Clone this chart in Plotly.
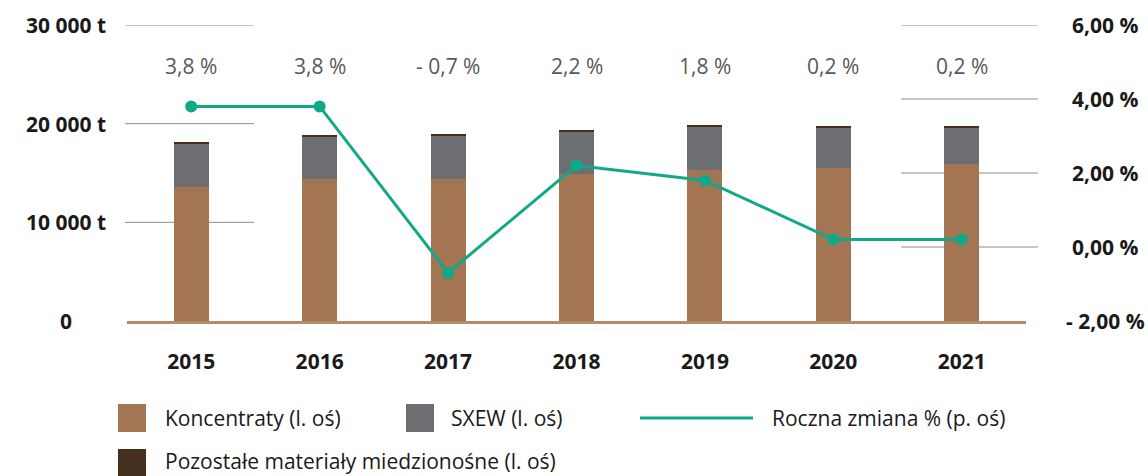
import plotly.graph_objects as go

# ---- data ----
years = ["2015", "2016", "2017", "2018", "2019", "2020", "2021"]
koncentraty = [13600, 14400, 14400, 14900, 15300, 15500, 15900]
sxew = [4350, 4300, 4400, 4300, 4400, 4100, 3700]
pozostale = [150, 200, 200, 200, 200, 200, 200]
zmiana = [3.8, 3.8, -0.7, 2.2, 1.8, 0.2, 0.2]
zmiana_labels = ["3,8 %", "3,8 %", "- 0,7 %", "2,2 %", "1,8 %", "0,2 %", "0,2 %"]

left_ticks = [0, 10000, 20000, 30000]
left_labels = ["0", "10 000 t", "20 000 t", "30 000 t"]
right_ticks = [-2, 0, 2, 4, 6]
right_labels = ["- 2,00 %", "0,00 %", "2,00 %", "4,00 %", "6,00 %"]

legend_names = ["Koncentraty (l. oś)", "SXEW (l. oś)", "Roczna zmiana % (p. oś)",
                "Pozostałe materiały miedzionośne (l. oś)"]

# ---- styling ----
C_KONC = "#a47553"
C_SXEW = "#6d6e71"
C_POZ = "#45301f"
C_LINE = "#0fa987"
C_GRID = "#8c8c8c"
C_BASE = "#b8896b"
FONT = "Open Sans"
FS = 21

W, H = 1148, 476
L, R, T, B = 127, 122, 25, 155
pw = W - L - R
ph = H - T - B


def px(x):
    return (x - L) / pw


def py(y):
    return (H - B - y) / ph


fig = go.Figure()
fig.add_trace(go.Bar(x=years, y=koncentraty, name=legend_names[0],
                     marker=dict(color=C_KONC, line=dict(width=0)), width=0.273))
fig.add_trace(go.Bar(x=years, y=sxew, name=legend_names[1],
                     marker=dict(color=C_SXEW, line=dict(width=0)), width=0.273))
fig.add_trace(go.Bar(x=years, y=pozostale, name=legend_names[3],
                     marker=dict(color=C_POZ, line=dict(width=0)), width=0.273))
fig.add_trace(go.Scatter(x=years, y=zmiana, name=legend_names[2], yaxis="y2",
                         mode="lines+markers",
                         line=dict(color=C_LINE, width=3),
                         marker=dict(color=C_LINE, size=12)))

shapes = []
# partial gridlines
for v in left_ticks[1:]:
    shapes.append(dict(type="line", xref="paper", yref="y", x0=px(125), x1=px(254),
                       y0=v, y1=v, line=dict(color=C_GRID, width=1), layer="below"))
for v in right_ticks[1:]:
    shapes.append(dict(type="line", xref="paper", yref="y2", x0=px(901), x1=px(1038),
                       y0=v, y1=v, line=dict(color=C_GRID, width=1), layer="below"))

annotations = []
for v, lab in zip(left_ticks, left_labels):
    annotations.append(dict(xref="paper", yref="y", x=px(66), y=v, text=f"<b>{lab}</b>",
                            showarrow=False, xanchor="center", yanchor="middle",
                            font=dict(family=FONT, size=FS, color="#1a1a1a")))
for v, lab in zip(right_ticks, right_labels):
    annotations.append(dict(xref="paper", yref="y2", x=px(1105), y=v, text=f"<b>{lab}</b>",
                            showarrow=False, xanchor="center", yanchor="middle",
                            font=dict(family=FONT, size=FS, color="#1a1a1a")))
for i, lab in enumerate(zmiana_labels):
    annotations.append(dict(xref="x", yref="paper", x=i, y=py(66), text=lab,
                            showarrow=False, xanchor="center", yanchor="middle",
                            font=dict(family=FONT, size=FS, color="#595959")))

# custom legend
def swatch(x0, yc, color):
    shapes.append(dict(type="rect", xref="paper", yref="paper",
                       x0=px(x0), x1=px(x0 + 28), y0=py(yc + 14), y1=py(yc - 14),
                       fillcolor=color, line=dict(width=0)))


def ltext(x0, yc, text):
    annotations.append(dict(xref="paper", yref="paper", x=px(x0), y=py(yc), text=text,
                            showarrow=False, xanchor="left", yanchor="middle",
                            font=dict(family=FONT, size=FS, color="#1a1a1a")))


swatch(118, 418, C_KONC)
ltext(163, 418, legend_names[0])
swatch(406, 418, C_SXEW)
ltext(449, 418, legend_names[1])
shapes.append(dict(type="line", xref="paper", yref="paper", x0=px(640), x1=px(753),
                   y0=py(418), y1=py(418), line=dict(color=C_LINE, width=3)))
ltext(770, 418, legend_names[2])
swatch(118, 463, C_POZ)
ltext(163, 461, legend_names[3])

fig.update_layout(
    width=W, height=H,
    margin=dict(l=L, r=R, t=T, b=B, autoexpand=False),
    barmode="stack",
    showlegend=False,
    paper_bgcolor="white", plot_bgcolor="white",
    font=dict(family=FONT, size=FS, color="#1a1a1a"),
    xaxis=dict(type="category", range=[-0.5, 6.5], showgrid=False, zeroline=False,
               showline=True, linecolor=C_BASE, linewidth=3, ticks="",
               tickfont=dict(family=FONT, size=FS, color="#1a1a1a", weight="bold"),
               ticklabelstandoff=20, fixedrange=True),
    yaxis=dict(range=[0, 30000], showgrid=False, zeroline=False, showticklabels=False,
               tickvals=left_ticks, ticks="", fixedrange=True),
    yaxis2=dict(range=[-2, 6], overlaying="y", side="right", showgrid=False,
                zeroline=False, showticklabels=False, tickvals=right_ticks, ticks="",
                fixedrange=True),
    shapes=shapes,
    annotations=annotations,
)

fig.write_html("out.html", config={"displayModeBar": False},
               post_script="document.body.style.margin='0';document.body.style.overflow='hidden';")
